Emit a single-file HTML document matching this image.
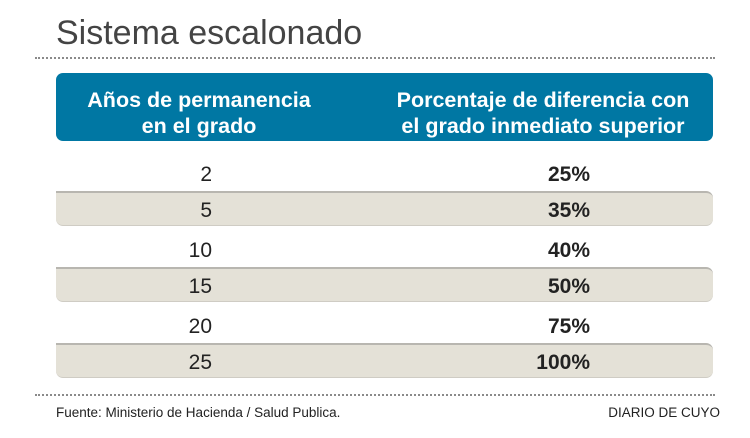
<!DOCTYPE html>
<html><head><meta charset="utf-8"><style>
body{margin:0;width:750px;height:438px;background:#fff;font-family:"Liberation Sans",sans-serif;position:relative;overflow:hidden}
.a{position:absolute}
.dot{position:absolute;left:35px;width:680px;border-top:2px dotted #8a8a8a}
.hd{left:56px;top:73px;width:657px;height:68px;background:#0077a3;border-radius:7px;color:#fff;font-weight:bold;font-size:21.5px;line-height:26px}
.row{position:absolute;left:56px;width:657px;height:36px;font-size:21px;color:#222}
.g{background:#e4e1d7;border-top:2px solid #b8b6b0;border-bottom:1px solid #cfccc4;border-radius:0 7px 7px 7px;height:32px}
.n{position:absolute;right:501px;top:7px}
.p{position:absolute;right:123px;top:7px;font-weight:bold}
</style></head><body>
<div class="a" style="left:56px;top:14px;font-size:34px;color:#444">Sistema escalonado</div>
<div class="dot" style="top:57px"></div>
<div class="a hd">
 <div class="a" style="left:0;width:286px;top:14px;text-align:center">Años de permanencia<br>en el grado</div>
 <div class="a" style="left:304px;width:366px;top:14px;text-align:center">Porcentaje de diferencia con<br>el grado inmediato superior</div>
</div>
<div class="row" style="top:156px"><span class="n">2</span><span class="p">25%</span></div>
<div class="row g" style="top:191px"><span class="n" style="top:6px">5</span><span class="p" style="top:6px">35%</span></div>
<div class="row" style="top:232px"><span class="n">10</span><span class="p">40%</span></div>
<div class="row g" style="top:267px"><span class="n" style="top:6px">15</span><span class="p" style="top:6px">50%</span></div>
<div class="row" style="top:308px"><span class="n">20</span><span class="p">75%</span></div>
<div class="row g" style="top:343px"><span class="n" style="top:6px">25</span><span class="p" style="top:6px">100%</span></div>
<div class="dot" style="top:394px"></div>
<div class="a" style="left:56px;top:405px;font-size:13.5px;color:#222">Fuente: Ministerio de Hacienda / Salud Publica.</div>
<div class="a" style="right:30px;top:405px;font-size:13.5px;color:#222">DIARIO DE CUYO</div>
</body></html>
